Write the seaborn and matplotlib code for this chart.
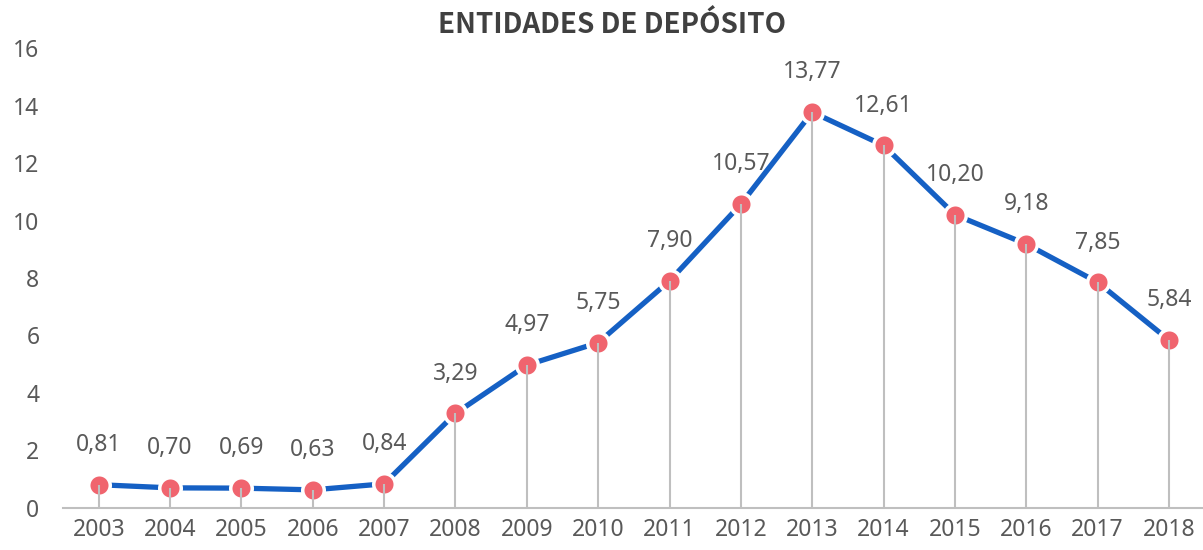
import numpy as np
import pandas as pd
import matplotlib.pyplot as plt
import seaborn as sns

years = ['2003', '2004', '2005', '2006', '2007', '2008', '2009', '2010',
         '2011', '2012', '2013', '2014', '2015', '2016', '2017', '2018']
values = [0.81, 0.70, 0.69, 0.63, 0.84, 3.29, 4.97, 5.75,
          7.90, 10.57, 13.77, 12.61, 10.20, 9.18, 7.85, 5.84]
title = 'ENTIDADES DE DEPÓSITO'

sns.set_theme(style='white')
plt.rcParams['font.family'] = ['Noto Sans', 'DejaVu Sans']

df = pd.DataFrame({'year': years, 'value': values})
df['pos'] = np.arange(len(df))

fig = plt.figure(figsize=(12.03, 5.5), dpi=100)
ax = fig.add_axes([0.0524, 0.0764, 0.949, 0.8363])

# drop lines from each point to the axis
ax.vlines(df['pos'], 0, df['value'], color='#BFBFBF', lw=1.5, zorder=4)

sns.lineplot(x='pos', y='value', data=df, color='#1560C4', lw=3.8,
             marker='o', markersize=15.5, markerfacecolor='#F0646E',
             markeredgecolor='white', markeredgewidth=2.5, ax=ax, zorder=3)

for x, v in zip(df['pos'], df['value']):
    ax.annotate(f'{v:.2f}'.replace('.', ','), (x, v), xytext=(0, 20),
                textcoords='offset points', ha='center', va='bottom',
                fontsize=16.5, color='#595959')

ax.set_xlim(-0.5, len(df) - 0.5)
ax.set_ylim(0, 16)
ax.set_yticks(range(0, 17, 2))
ax.set_xticks(df['pos'])
ax.set_xticklabels(years)
ax.tick_params(axis='both', labelsize=16.5, labelcolor='#595959', length=0, pad=7)
ax.tick_params(axis='y', pad=17)
ax.set_xlabel('')
ax.set_ylabel('')
for side in ['top', 'right', 'left']:
    ax.spines[side].set_visible(False)
ax.spines['bottom'].set_color('#BFBFBF')
ax.spines['bottom'].set_linewidth(1.5)

fig.text(0.509, 0.955, title, ha='center', va='center', fontsize=20,
         fontweight='bold', color='#404040',
         family=['Noto Sans CJK JP', 'DejaVu Sans'])

fig.savefig('out.png', dpi=100)
